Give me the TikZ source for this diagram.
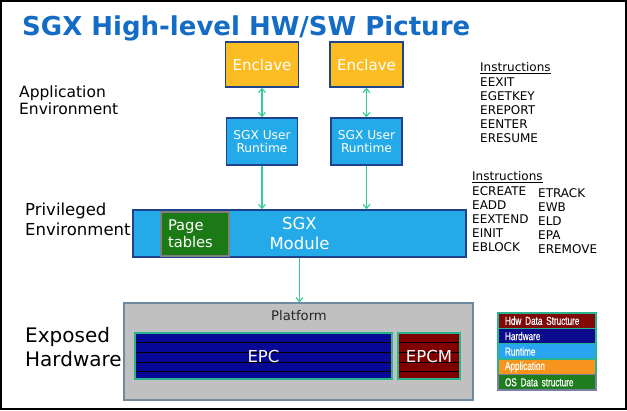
\documentclass[tikz,border=0pt]{standalone}
\usepackage{fontspec}
\setmainfont{DejaVu Sans}
\newfontfamily\legendfont[FakeStretch=0.71, FakeBold=0.6]{Liberation Sans}
\usetikzlibrary{arrows.meta}
\definecolor{coltitle}{RGB}{20,108,196}
\definecolor{colnavy}{RGB}{30,66,140}
\definecolor{colencl}{RGB}{251,189,35}
\definecolor{colrun}{RGB}{36,170,232}
\definecolor{collink}{RGB}{52,204,150}
\definecolor{colpage}{RGB}{28,122,22}
\definecolor{colplat}{RGB}{192,192,192}
\definecolor{colplatedge}{RGB}{110,138,160}
\definecolor{colepc}{RGB}{8,8,150}
\definecolor{colepcm}{RGB}{128,0,0}
\definecolor{colteal}{RGB}{40,180,140}
\definecolor{colhdw}{RGB}{128,10,10}
\definecolor{colhw}{RGB}{10,10,140}
\definecolor{colrt}{RGB}{40,165,240}
\definecolor{colapp}{RGB}{247,148,30}
\definecolor{colos}{RGB}{30,125,30}
\definecolor{colgrey}{RGB}{120,130,160}
\tikzset{
  >={Straight Barb[length=4pt, width=7pt]},
  link/.style={->, collink, line width=1.1pt},
  twoway/.style={<->, collink, line width=1.1pt},
  enclave box/.style={rectangle, draw=colnavy, line width=1.6pt, fill=colencl, text=white,
    minimum width=73pt, minimum height=45pt, inner sep=0, font=\fontsize{15}{18}\selectfont},
  runtime box/.style={rectangle, draw=colnavy, line width=1.6pt, fill=colrun, text=white,
    minimum width=71pt, minimum height=47pt, inner sep=0, align=center,
    font=\fontsize{12.2}{13.5}\selectfont},
  module box/.style={rectangle, draw=colnavy, line width=1.6pt, fill=colrun, text=white,
    minimum width=333pt, minimum height=47pt, inner sep=0, align=center,
    font=\fontsize{16.5}{20}\selectfont},
  pages box/.style={rectangle, draw=gray, line width=1.2pt, fill=colpage, text=white,
    text width=54pt, inner xsep=7pt, inner ysep=0, minimum height=44pt, align=left,
    font=\fontsize{14.7}{17}\selectfont},
  platform box/.style={rectangle, draw=colplatedge, line width=1.2pt, fill=colplat,
    minimum width=349pt, minimum height=97pt, inner sep=0},
  memory box/.style={rectangle, draw=colteal, line width=1.2pt, text=white,
    minimum height=46pt, inner sep=0, font=\fontsize{16.5}{20}\selectfont,
    path picture={\foreach \k in {9,19,29,38}
      \draw[black, line width=0.6pt] ([yshift=-\k pt]path picture bounding box.north west)
        -- ([yshift=-\k pt]path picture bounding box.north east);}},
  side label/.style={anchor=west, inner sep=0, align=left, text=black},
  instr/.style={anchor=base west, inner sep=0, text=black, font=\fontsize{12}{14}\selectfont},
  legend row/.style={rectangle, line width=1.4pt, text=white, text width=84pt, inner xsep=7pt,
    inner ysep=0, minimum height=15.4pt, align=left, font=\legendfont\fontsize{11.5}{12}\selectfont},
}
\begin{document}
\begin{tikzpicture}[x=1pt, y=-1pt]
  \useasboundingbox (0,0) rectangle (627,411);

  % ---- frame and title
  \draw[black, line width=2pt] (1,1) rectangle (625.5,409.5);
  \node[anchor=base west, inner sep=0, text=coltitle, font=\bfseries\fontsize{26}{30}\selectfont]
    (title) at (22,36) {SGX High-level HW/SW Picture};

  % ---- layer captions
  \node[side label, font=\fontsize{15.5}{17}\selectfont] (appenv) at (19,100) {Application\\Environment};
  \node[side label, font=\fontsize{16.5}{20}\selectfont] (privenv) at (25,219.5) {Privileged\\Environment};
  \node[side label, font=\fontsize{20}{24}\selectfont] (hwenv) at (25,347.5) {Exposed\\Hardware};

  % ---- application environment: one enclave + runtime per column
  \foreach \i/\x in {1/262, 2/366.5} {
    \node[enclave box] (E\i) at (\x,64.5) {Enclave};
    \node[runtime box] (R\i) at (\x,141.5) {SGX User\\Runtime};
  }

  % ---- privileged environment
  \node[module box] (M) at (299.5,233.5) {SGX\\Module};
  \node[pages box] (PT) at (195,234) {Page\\tables};

  % ---- exposed hardware
  \node[platform box] (P) at (298.5,351.5) {};
  \node[anchor=base, inner sep=0, text=black!85, font=\fontsize{13.2}{15}\selectfont] (Plab) at (299,321) {Platform};
  \node[memory box, fill=colepc, minimum width=257pt] (EPC) at (263.5,356) {EPC};
  \node[memory box, fill=colepcm, minimum width=62pt] (EPCM) at (429,356) {EPCM};

  % ---- links
  \foreach \i in {1,2} {
    \draw[twoway] (E\i) -- (R\i);
    \draw[link] (R\i) -- (R\i.south |- M.north);
  }
  \draw[link] (M) -- (M.south |- P.north);

  % ---- instruction lists
  \node[instr] (ui) at (480,72) {\underline{Instructions}};
  \foreach \t [count=\i] in {EEXIT,EGETKEY,EREPORT,EENTER,ERESUME}
    \node[instr] (u\i) at (480,{72.8+14*\i}) {\t};
  \node[instr] (si) at (472,181) {\underline{Instructions}};
  \foreach \t [count=\i] in {ECREATE,EADD,EEXTEND,EINIT,EBLOCK}
    \node[instr] (s\i) at (472,{182+14*\i}) {\t};
  \foreach \t [count=\i] in {ETRACK,EWB,ELD,EPA,EREMOVE}
    \node[instr] (t\i) at (538,{184+14*\i}) {\t};

  % ---- legend
  \foreach \c/\d/\t [count=\i] in {colhdw/colteal/Hdw Data Structure, colhw/colteal/Hardware,
      colrt/colteal/Runtime, colapp/colteal/Application, colos/colgrey/OS Data structure}
    \node[legend row, fill=\c, draw=\d] (L\i) at (547,{313+15.4*\i-7.7}) {\t};

\end{tikzpicture}
\end{document}
